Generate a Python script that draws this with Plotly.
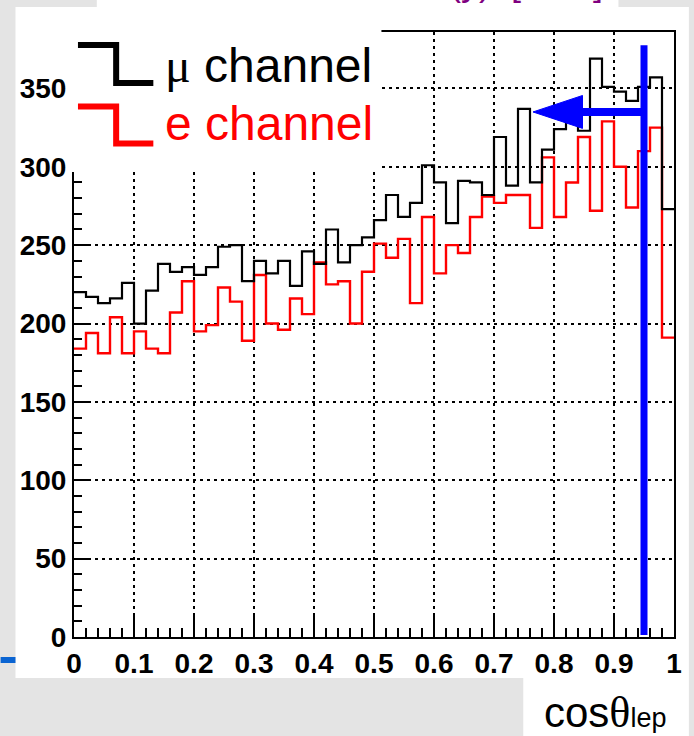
import plotly.graph_objects as go

# ---- histogram content: 50 bins on cos(theta_lep) in [0, 1] ----
bin_edges = [round(i * 0.02, 2) for i in range(51)]

mu_channel = [220, 217, 213, 216, 226, 200, 221, 238, 233, 236,
              231, 236, 249, 250, 227, 240, 232, 240, 224, 246,
              238, 260, 239, 250, 255, 266, 282, 268, 277, 301,
              290, 264, 291, 290, 282, 319, 288, 337, 290, 311,
              324, 330, 323, 369, 351, 348, 342, 351, 357, 273]

e_channel = [184, 194, 181, 204, 181, 195, 184, 181, 207, 227,
             195, 199, 223, 214, 189, 231, 200, 196, 216, 206,
             239, 225, 227, 200, 233, 251, 242, 254, 213, 268,
             232, 250, 245, 268, 281, 277, 282, 282, 261, 306,
             268, 290, 319, 272, 329, 300, 274, 310, 325, 191]

x_ticks = [0, 0.1, 0.2, 0.3, 0.4, 0.5, 0.6, 0.7, 0.8, 0.9, 1]
x_tick_text = ["0", "0.1", "0.2", "0.3", "0.4", "0.5", "0.6", "0.7", "0.8", "0.9", "1"]
y_ticks = [0, 50, 100, 150, 200, 250, 300, 350]

# selection cut and arrow pointing to the kept region
cut_x = 0.95
cut_y_range = [1.3, 377.5]
arrow_y = 335
arrow_tip_x = 0.765
arrow_head_base_x = 0.8475
arrow_head_half = 10.5

# ---- page geometry (pixels) ----
W, H = 694, 736
ML, MR, MT, MB = 74, 15, 32, 99
PW = W - ML - MR
PH = H - MT - MB


def px(X):
    return (X - ML) / PW


def py(Y):
    return (H - MB - Y) / PH


def step(values):
    return values + [values[-1]]


fig = go.Figure()
fig.add_trace(go.Scatter(x=bin_edges, y=step(e_channel), mode="lines",
                         line=dict(color="#ff0000", width=2.4, shape="hv"),
                         hoverinfo="skip", showlegend=False))
fig.add_trace(go.Scatter(x=bin_edges, y=step(mu_channel), mode="lines",
                         line=dict(color="#000000", width=2.2, shape="hv"),
                         hoverinfo="skip", showlegend=False))

shapes = []


def rect_px(x0, y0, x1, y1, color, layer="below"):
    shapes.append(dict(type="rect", xref="paper", yref="paper",
                       x0=px(x0), x1=px(x1), y0=py(y1), y1=py(y0),
                       fillcolor=color, line=dict(width=0), layer=layer))


# white canvas pieces on the grey page
rect_px(15, 7, 694, 678, "white")
rect_px(97, 0, 623, 7, "white")
rect_px(527, 678, 694, 736, "white")
rect_px(0, 657, 15, 663, "#0a64d2")

# legend box hides the frame behind it
rect_px(71, 20, 384, 172, "white", layer="above")


def path_px(points):
    d = "M " + " L ".join(f"{px(x):.5f},{py(y):.5f}" for x, y in points)
    return d


shapes.append(dict(type="path", xref="paper", yref="paper",
                   path=path_px([(78, 45), (116.5, 45), (116.5, 83), (154, 83)]),
                   line=dict(color="black", width=6), layer="above"))
shapes.append(dict(type="path", xref="paper", yref="paper",
                   path=path_px([(78, 106.5), (116.5, 106.5), (116.5, 143.5), (154, 143.5)]),
                   line=dict(color="#ff0000", width=6), layer="above"))

# cut line and arrow
shapes.append(dict(type="line", xref="x", yref="y",
                   x0=cut_x, x1=cut_x, y0=cut_y_range[0], y1=cut_y_range[1],
                   line=dict(color="#0000ff", width=7), layer="above"))
shapes.append(dict(type="line", xref="x", yref="y",
                   x0=cut_x, x1=arrow_head_base_x, y0=arrow_y, y1=arrow_y,
                   line=dict(color="#0000ff", width=8), layer="above"))
shapes.append(dict(type="path", xref="x", yref="y",
                   path=(f"M {arrow_tip_x},{arrow_y} "
                         f"L {arrow_head_base_x},{arrow_y + arrow_head_half} "
                         f"L {arrow_head_base_x},{arrow_y - arrow_head_half} Z"),
                   fillcolor="#0000ff", line=dict(color="#0000ff", width=1),
                   layer="above"))

annotations = [
    dict(xref="paper", yref="paper", x=px(164), y=py(65), xanchor="left", yanchor="middle",
         text="<span style=\"font-family:'Liberation Serif'\">μ</span> channel",
         showarrow=False, font=dict(family="Liberation Sans", size=48, color="black")),
    dict(xref="paper", yref="paper", x=px(164), y=py(123), xanchor="left", yanchor="middle",
         text="e channel", showarrow=False,
         font=dict(family="Liberation Sans", size=48, color="#ff0000")),
    dict(xref="paper", yref="paper", x=px(546), y=py(712), xanchor="left", yanchor="middle",
         text=("cos<span style=\"font-family:'Liberation Serif';font-size:44px\">θ</span>"
               "<span style=\"font-size:27px\">lep</span>"),
         showarrow=False, font=dict(family="Liberation Sans", size=42, color="black")),
    dict(xref="paper", yref="paper", x=px(530), y=py(-18), xanchor="center", yanchor="middle",
         text="(y)  [GeV]", showarrow=False,
         font=dict(family="Liberation Sans", size=36, color="#800080")),
]

axis_font = dict(family="Liberation Sans", size=28, color="black", weight="bold")

fig.update_layout(
    width=W, height=H,
    margin=dict(l=ML, r=MR, t=MT, b=MB, pad=0),
    paper_bgcolor="#e4e4e4",
    plot_bgcolor="rgba(0,0,0,0)",
    showlegend=False,
    shapes=shapes,
    annotations=annotations,
    xaxis=dict(range=[0, 1], tickvals=x_ticks, ticktext=x_tick_text,
               ticks="inside", ticklen=21, tickwidth=1.6, tickcolor="black",
               minor=dict(dtick=0.02, tick0=0, ticks="inside", ticklen=9,
                          tickwidth=1.6, tickcolor="black", showgrid=False),
               showgrid=True, gridcolor="black", gridwidth=2, griddash="3px,4px",
               showline=True, linecolor="black", linewidth=2, mirror=True,
               zeroline=False, tickfont=axis_font, fixedrange=True),
    yaxis=dict(range=[0, 386], tickvals=y_ticks,
               ticks="inside", ticklen=14, tickwidth=1.6, tickcolor="black",
               minor=dict(dtick=10, tick0=0, ticks="inside", ticklen=8,
                          tickwidth=1.6, tickcolor="black", showgrid=False),
               showgrid=True, gridcolor="black", gridwidth=2, griddash="3px,4px",
               showline=True, linecolor="black", linewidth=2, mirror=True,
               zeroline=False, tickfont=axis_font, fixedrange=True),
)

fig.write_html("out.html")
